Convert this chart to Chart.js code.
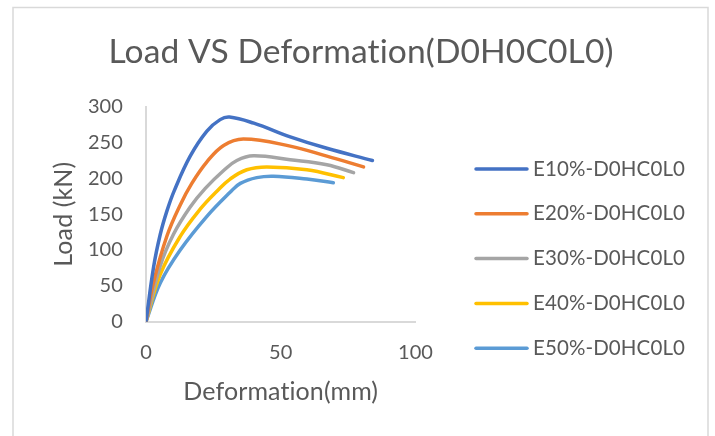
<!DOCTYPE html>
<html><head><meta charset="utf-8">
<script src="https://cdn.jsdelivr.net/npm/chart.js@4/dist/chart.umd.min.js"></script>
<style>html,body{margin:0;padding:0;background:#fff;overflow:hidden}canvas{display:block}</style>
</head><body>
<canvas id="c" width="715" height="436"></canvas>
<script>
const chartTitle = 'Load VS Deformation(D0H0C0L0)';
const xAxisTitle = 'Deformation(mm)';
const yAxisTitle = 'Load (kN)';
const seriesNames = ['E10%-D0HC0L0', 'E20%-D0HC0L0', 'E30%-D0HC0L0', 'E40%-D0HC0L0', 'E50%-D0HC0L0'];
const seriesColors = ['#4472C4', '#ED7D31', '#A5A5A5', '#FFC000', '#5B9BD5'];

const defE10 = [0, 2.8, 5.3, 7.8, 10.5, 16.4, 22.6, 27.5, 31, 40, 53.5, 67.1, 84];
const loadE10 = [0, 76, 122, 155, 183, 231, 266, 282, 285.6, 277, 258, 242, 225];
const defE20 = [0, 2.8, 7.8, 12.7, 17, 22.6, 28.8, 36.2, 53.5, 67.1, 80.7];
const loadE20 = [0, 55, 120, 163, 193, 223, 246, 255, 245, 231, 216];
const defE30 = [0, 5.3, 10.2, 16.4, 22, 28.8, 33.7, 39.9, 53.5, 67.1, 77];
const loadE30 = [0, 78, 122, 160, 186, 211, 225, 231.5, 226, 219, 208];
const defE40 = [0, 5.3, 12.7, 20.1, 26.3, 31.2, 37.4, 44.8, 59.7, 73.2];
const loadE40 = [0, 66, 119, 157, 182, 199, 212, 216, 212, 201];
const defE50 = [0, 5.3, 12.7, 22.6, 31.3, 35, 41.1, 47.3, 59.7, 69.5];
const loadE50 = [0, 54, 100, 147, 181, 193, 201, 203, 199, 194];

const xTickValues = [0, 50, 100];
const yTickValues = [0, 50, 100, 150, 200, 250, 300];

const seriesDefs = [defE10, defE20, defE30, defE40, defE50];
const seriesLoads = [loadE10, loadE20, loadE30, loadE40, loadE50];

const TXT = '#595959';
const FONT = 'Lato';

const datasets = seriesNames.map((name, i) => ({
  label: name,
  data: seriesDefs[i].map((d, j) => ({x: d, y: seriesLoads[i][j]})),
  borderColor: seriesColors[i],
  backgroundColor: seriesColors[i],
  borderWidth: 3.5,
  borderCapStyle: 'round',
  borderJoinStyle: 'round',
  showLine: true,
  pointRadius: 0,
  pointHoverRadius: 0,
  tension: 0.4,
  fill: false,
  yAxisID: 'y'
}));

const framePlugin = {
  id: 'frame',
  beforeDraw(chart) {
    const ctx = chart.ctx;
    if ('letterSpacing' in ctx) ctx.letterSpacing = '0.1px';
    ctx.save();
    ctx.fillStyle = '#ffffff';
    ctx.fillRect(0, 0, chart.width, chart.height);
    ctx.strokeStyle = '#d9d9d9';
    ctx.lineWidth = 1.5;
    ctx.strokeRect(13, 7.5, 695, 440);
    ctx.restore();
  }
};

const sideLegend = {
  id: 'sideLegend',
  afterDraw(chart) {
    const ctx = chart.ctx;
    ctx.save();
    chart.data.datasets.forEach((ds, i) => {
      const y = 169 + i * 44.8;
      ctx.strokeStyle = ds.borderColor;
      ctx.lineWidth = 3.5;
      ctx.lineCap = 'round';
      ctx.beginPath();
      ctx.moveTo(476, y);
      ctx.lineTo(527, y);
      ctx.stroke();
      ctx.fillStyle = TXT;
      ctx.font = '20.5px ' + FONT;
      ctx.textBaseline = 'middle';
      ctx.textAlign = 'left';
      ctx.fillText(ds.label, 533, y);
    });
    ctx.restore();
  }
};

new Chart(document.getElementById('c'), {
  type: 'scatter',
  data: {datasets},
  options: {
    responsive: false,
    animation: false,
    devicePixelRatio: 1,
    layout: {padding: {left: 7, right: 0, top: 0, bottom: 0}},
    plugins: {
      legend: {display: false},
      tooltip: {enabled: false},
      title: {
        display: true,
        text: chartTitle,
        color: TXT,
        font: {family: FONT, size: 33.6, weight: 'normal'},
        padding: {top: 31.6, bottom: 34.8}
      }
    },
    scales: {
      x: {
        type: 'linear',
        min: xTickValues[0],
        max: xTickValues[xTickValues.length - 1],
        afterBuildTicks: s => { s.ticks = xTickValues.map(v => ({value: v})); },
        afterFit: s => { s.height = 114.3; },
        grid: {display: false, drawTicks: false},
        border: {display: true, color: '#d9d9d9', width: 2},
        ticks: {color: TXT, font: {family: FONT, size: 20}, padding: 19, maxRotation: 0},
        title: {display: true, text: xAxisTitle, color: TXT, font: {family: FONT, size: 25}, padding: {top: 0, bottom: 29.5}}
      },
      y: {
        type: 'linear',
        position: 'left',
        min: yTickValues[0],
        max: yTickValues[yTickValues.length - 1],
        afterBuildTicks: s => { s.ticks = yTickValues.map(v => ({value: v})); },
        afterFit: s => { s.width = 139; },
        grid: {display: false, drawTicks: false},
        border: {display: true, color: '#d9d9d9', width: 2},
        ticks: {color: TXT, font: {family: FONT, size: 20}, padding: 23},
        title: {display: true, text: yAxisTitle, color: TXT, font: {family: FONT, size: 25}, padding: {top: 42, bottom: 0}}
      },
      yRightSpace: {
        type: 'linear',
        position: 'right',
        min: 0,
        max: 1,
        afterFit: s => { s.width = 299.5; },
        grid: {display: false, drawTicks: false},
        border: {display: false},
        ticks: {display: false}
      }
    }
  },
  plugins: [framePlugin, sideLegend]
});
</script>
</body></html>
